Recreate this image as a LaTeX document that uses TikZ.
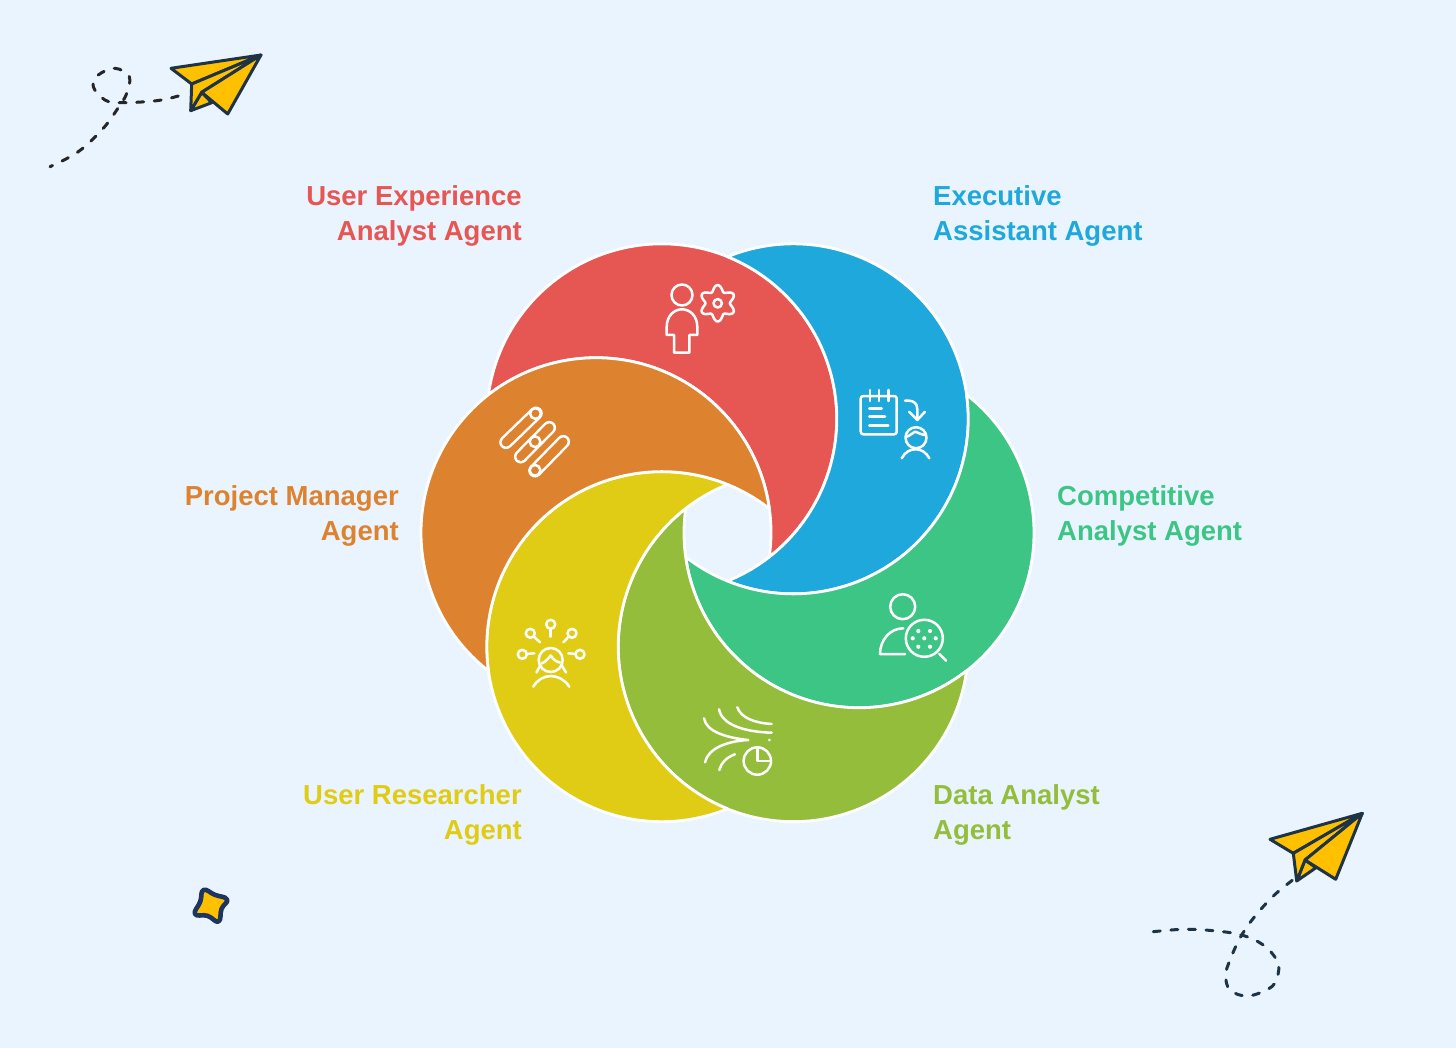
\documentclass[tikz,border=0pt]{standalone}
\usepackage{fontspec}
\setmainfont{Liberation Sans}
\definecolor{bgc}{HTML}{EAF4FE}
\definecolor{cred}{HTML}{E65754}
\definecolor{cblue}{HTML}{1EA8DB}
\definecolor{cgreen}{HTML}{3DC585}
\definecolor{colive}{HTML}{94BD3B}
\definecolor{cyellow}{HTML}{E0CC14}
\definecolor{corange}{HTML}{DD832F}
\definecolor{planey}{HTML}{FFC000}
\definecolor{planed}{HTML}{1F3347}
\definecolor{stard}{HTML}{1E3560}
\tikzset{
  crescent/.style={draw=white,line width=2.8pt,line join=round},
  icon/.style={draw=white,line width=2.5pt,line cap=round,line join=round},
  lab/.style={font=\fontsize{27.5}{35}\selectfont\bfseries,inner sep=0pt},
  labr/.style={lab,align=right,anchor=east},
  labl/.style={lab,align=left,anchor=west},
  plane/.style={draw=planed,fill=planey,line width=3pt,line join=round},
  trail/.style={line width=3pt,line cap=round,dash pattern=on 7pt off 10.6pt}
}
\begin{document}
\begin{tikzpicture}[x=1pt,y=-1pt]
\useasboundingbox (0,0) rectangle (1456,1048);
\fill[bgc] (0,0) rectangle (1456,1048);
% crescents
\foreach \a/\c in {240/cred,300/cblue,0/cgreen,60/colive,120/cyellow,180/corange}{
  \pgfmathsetmacro{\cx}{727.5+131.5*cos(\a)}
  \pgfmathsetmacro{\cy}{532.75+131.5*sin(\a)}
  \pgfmathsetmacro{\sa}{\a-52.07}
  \pgfmathsetmacro{\sb}{\a+127.93}
  \path[crescent,fill=\c] ({\cx+175*cos(\sa)},{\cy+175*sin(\sa)})
     arc[start angle=\sa,delta angle=224.14,radius=175]
     arc[start angle=\sb,delta angle=-135.86,radius=175] -- cycle;
}
% icon: user experience
\draw[icon] (682,295) circle (10.5);
\draw[icon] (666.7,335) -- (666.7,327) .. controls (666.7,316) and (674,309.3) .. (682,309.3)
  .. controls (690,309.3) and (697.3,316) .. (697.3,327) -- (697.3,335) -- (689.3,335) -- (689.3,352.7) -- (674,352.7) -- (674,335) -- cycle;
\draw[icon] plot[domain=0:355,samples=72,smooth cycle] ({717.7+(15.2-3*cos(6*\x))*cos(\x)},{303.3+(15.2-3*cos(6*\x))*sin(\x)});
\draw[icon] (717.7,303.3) circle (4.2);
% icon: executive assistant
\draw[icon,rounded corners=2.5pt] (860.7,396) rectangle (896.7,434.3);
\foreach \tx in {870,879,888.3} \draw[icon] (\tx,390) -- (\tx,401);
\draw[icon] (869.3,408.3) -- (881.7,408.3) (869.3,416.7) -- (885,416.7) (869.3,425.7) -- (888.3,425.7);
\draw[icon] (905,400.7) -- (909,400.7) .. controls (914,400.7) and (917.3,404) .. (917.3,409) -- (917.3,420);
\draw[icon] (909,411.7) -- (917.3,420) -- (925,411.7);
\draw[icon] (916,437.7) circle (10.5);
\draw[icon] (905.7,437) .. controls (910,436) and (912,433) .. (915,431.7) .. controls (919,433) and (922,435) .. (926,435);
\draw[icon] (901.7,458.3) .. controls (905,452) and (910,449.3) .. (915.7,449.3) .. controls (921,449.3) and (926,452) .. (929.3,458.3);
% icon: competitive analyst
\draw[icon] (902.7,606.7) circle (12.5);
\draw[icon] (905,654) -- (880,654) .. controls (880,640) and (890,628.3) .. (903.3,628.3);
\draw[icon] (924.3,638.3) circle (18.5);
\draw[icon] (939.3,654) -- (946,660.7);
\foreach \dx/\dy in {918.3/631,930/631,912.7/638.3,924.3/638.3,935.7/638.3,918.3/646.7,930/646.7}
  \fill[white] (\dx,\dy) circle (2.1);
% icon: data analyst
\draw[icon] (737.3,707.3) .. controls (741,718) and (755,723) .. (771.7,724);
\draw[icon] (719,709.3) .. controls (722,725) and (745,732) .. (771.7,732.7);
\draw[icon] (704,718.3) .. controls (706,732) and (728,738) .. (748.3,740) .. controls (728,741) and (708,748) .. (705,762.3);
\draw[icon] (735,754.3) .. controls (727,757) and (721,763) .. (719.3,770);
\fill[white] (769.3,740) circle (1.5);
\draw[icon] (757.3,761) circle (13.7);
\draw[icon] (757.3,748) -- (757.3,761) -- (771,761);
% icon: user researcher
\draw[icon] (550.7,660) circle (12);
\draw[icon] (541.7,663.5) .. controls (545,662) and (548,659) .. (550.7,655.5) .. controls (553,659) and (556,662) .. (560,662.5);
\draw[icon] (536.5,672.5) -- (540.5,665) (566,672.5) -- (561.5,665);
\draw[icon] (533.3,686.7) .. controls (537,680) and (544,676) .. (550.7,676) .. controls (558,676) and (565,680) .. (569.3,686.7);
\foreach \px/\py/\qx/\qy in {550.7/624.3/550.7/636.7,530.3/633.3/540/642.3,572/633.3/563.3/642.3,522.3/654.3/534.3/653.3,580/654.3/568.3/653.3}{
  \draw[icon] (\px,\py) circle (4.5);
  \draw[icon] (\px,\py) ++ ({atan2(\qy-\py,\qx-\px)}:4.5) -- (\qx,\qy);
}
% icon: project manager
\foreach \ax/\ay/\bx/\by in {536/413.3/506/442.3,549.3/427.7/520.7/456.7,563.3/441.7/535/470.7}{
  \draw[white,line width=13.6pt,line cap=round] (\ax,\ay) -- (\bx,\by);
  \draw[corange,line width=8.6pt,line cap=round] (\ax,\ay) -- (\bx,\by);
}
\draw[icon] (535.5,413.5) circle (5.4);
\draw[icon] (535,441.7) circle (5.4);
\draw[icon] (535,470.3) circle (5.4);
% labels
\node[labr,text=cred] (ux) at (522,216) {User Experience\\Analyst Agent};
\node[labl,text=cblue] (exec) at (933,216) {Executive\\Assistant Agent};
\node[labr,text=corange] (pm) at (399,516) {Project Manager\\Agent};
\node[labl,text=cgreen] (comp) at (1057,516) {Competitive\\Analyst Agent};
\node[labr,text=cyellow] (res) at (522,815) {User Researcher\\Agent};
\node[labl,text=colive] (data) at (933,815) {Data Analyst\\Agent};
% plane 1
\draw[trail,draw=black!85] plot[smooth,tension=0.6] coordinates {(178.3,96) (156.7,100.7) (121.7,102.7) (105,100) (93.3,86.7) (98.3,75) (115,68.3) (129.3,76.7) (126.7,93.3) (120,105) (103.3,128.3) (78.3,151.7) (50,166.7)};
\draw[plane] (190.7,110.7) -- (201.7,92.3) -- (211.7,102.7) -- cycle;
\draw[plane] (261,55) -- (171,68.3) -- (191.7,84) -- cycle;
\draw[plane] (191.7,84) -- (190.7,110.7) -- (201.7,92.3) -- (261,55) -- cycle;
\draw[plane] (261,55) -- (201.7,92.3) -- (227.7,114) -- cycle;
% plane 2
\draw[trail,draw=planed] plot[smooth,tension=0.6] coordinates {(1153.3,931.7) (1183.3,929.3) (1213.3,930.7) (1241.7,935) (1263.3,945) (1276.7,960) (1278.3,973) (1271.7,986.7) (1248.3,996) (1230,990) (1225.7,975) (1230,960) (1240,938) (1253.3,918.3) (1273.3,896) (1292.7,880)};
\draw[plane] (1296.7,881) -- (1305,860) -- (1316,867.7) -- cycle;
\draw[plane] (1362.3,813.3) -- (1270,839.3) -- (1293.3,853.3) -- cycle;
\draw[plane] (1293.3,853.3) -- (1296.7,881) -- (1305,860) -- (1362.3,813.3) -- cycle;
\draw[plane] (1362.3,813.3) -- (1305,860) -- (1335.7,879.3) -- cycle;
% star
\draw[draw=stard,fill=planey,line width=4.6pt,line join=round] plot[smooth cycle,tension=0.8] coordinates {(203.5,890) (214.8,894.8) (227,899.5) (221.5,909) (218.5,921.5) (207.5,915.8) (195,914) (200.3,901.5)};
\end{tikzpicture}
\end{document}
